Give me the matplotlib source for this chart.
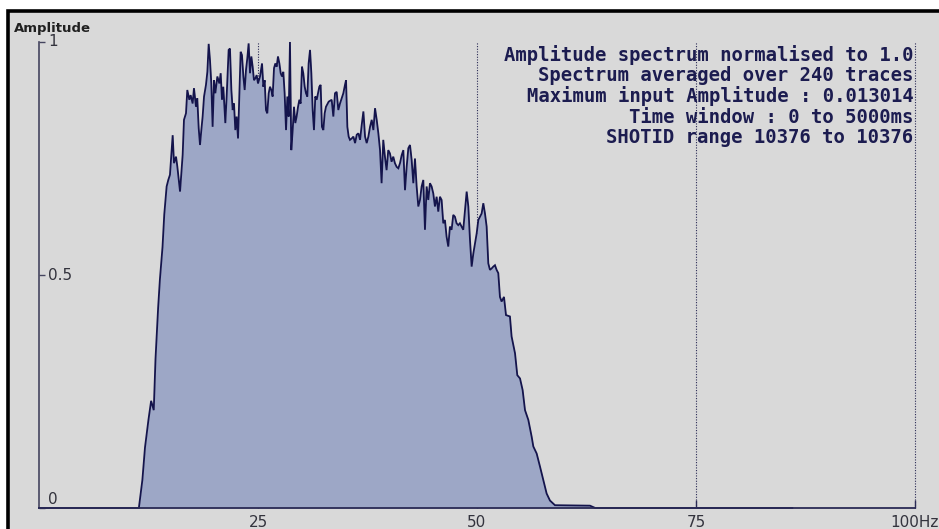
import matplotlib
matplotlib.use("Agg")
import matplotlib.pyplot as plt
from matplotlib.patches import Rectangle

# Averaged amplitude spectrum (frequency in Hz, amplitude normalised to 1.0)
freq_hz = [
    0.0, 11.4, 11.8, 12.1, 12.5, 12.8, 13.1, 13.3, 13.6, 13.8, 14.1, 14.3,
    14.57, 14.76, 14.95, 15.26, 15.41, 15.64, 15.79, 16.10, 16.40, 16.55, 16.78,
    16.93, 17.16, 17.31, 17.54, 17.69, 17.92, 18.07, 18.23, 18.38, 18.53, 18.68,
    18.84, 19.06, 19.22, 19.37, 19.52, 19.67, 19.82, 19.98, 20.13, 20.36, 20.59,
    20.74, 20.89, 21.04, 21.27, 21.42, 21.65, 21.80, 21.96, 22.11, 22.26, 22.41,
    22.56, 22.72, 22.87, 23.02, 23.17, 23.33, 23.48, 23.63, 23.78, 23.93, 24.09,
    24.24, 24.39, 24.54, 24.70, 24.85, 25.00, 25.23, 25.46, 25.61, 25.76, 25.91,
    26.06, 26.22, 26.37, 26.52, 26.67, 26.83, 26.98, 27.13, 27.28, 27.44, 27.59,
    27.74, 27.89, 28.04, 28.20, 28.35, 28.50, 28.65, 28.80, 28.96, 29.11, 29.26,
    29.41, 29.57, 29.72, 29.87, 30.02, 30.17, 30.33, 30.48, 30.63, 30.78, 30.94,
    31.09, 31.24, 31.39, 31.54, 31.70, 31.85, 32.00, 32.15, 32.30, 32.46, 32.61,
    32.76, 33.07, 33.41, 33.60, 33.79, 33.98, 34.17, 34.36, 34.55, 34.74, 34.93,
    35.05, 35.20, 35.35, 35.50, 35.70, 35.89, 36.08, 36.27, 36.46, 36.65, 36.84,
    37.03, 37.22, 37.41, 37.60, 37.79, 37.98, 38.17, 38.36, 38.55, 38.74, 38.93,
    39.11, 39.30, 39.49, 39.68, 39.87, 40.06, 40.25, 40.44, 40.63, 40.83, 41.02,
    41.21, 41.40, 41.59, 41.78, 41.97, 42.16, 42.35, 42.54, 42.73, 42.92, 43.11,
    43.30, 43.49, 43.68, 43.87, 44.06, 44.25, 44.44, 44.63, 44.82, 45.01, 45.20,
    45.39, 45.58, 45.77, 45.96, 46.15, 46.34, 46.53, 46.72, 46.91, 47.10, 47.29,
    47.48, 47.67, 47.86, 48.05, 48.24, 48.43, 48.63, 48.82, 49.01, 49.20, 49.39,
    49.58, 49.77, 49.96, 50.15, 50.34, 50.53, 50.72, 50.91, 51.10, 51.29, 51.48,
    51.67, 51.86, 52.05, 52.24, 52.43, 52.62, 52.81, 53.08, 53.31, 53.76, 53.95,
    54.15, 54.34, 54.60, 54.91, 55.21, 55.48, 55.86, 56.24, 56.43, 56.81, 57.19,
    57.57, 57.95, 58.33, 58.90, 62.9, 63.5, 86.0,
]
amplitude = [
    0.0, 0.0, 0.06, 0.13, 0.19, 0.23, 0.21, 0.32, 0.43, 0.49, 0.56, 0.63,
    0.690, 0.704, 0.715, 0.800, 0.740, 0.754, 0.733, 0.679, 0.758, 0.833, 0.847,
    0.897, 0.876, 0.886, 0.868, 0.901, 0.861, 0.879, 0.815, 0.779, 0.811, 0.840,
    0.883, 0.908, 0.936, 0.996, 0.961, 0.911, 0.818, 0.918, 0.890, 0.926, 0.911,
    0.933, 0.876, 0.904, 0.826, 0.883, 0.983, 0.986, 0.897, 0.854, 0.868, 0.811,
    0.840, 0.793, 0.883, 0.979, 0.972, 0.926, 0.897, 0.940, 0.965, 0.997, 0.933,
    0.969, 0.947, 0.918, 0.922, 0.929, 0.911, 0.926, 0.954, 0.904, 0.918, 0.854,
    0.847, 0.890, 0.904, 0.897, 0.883, 0.944, 0.954, 0.947, 0.969, 0.954, 0.933,
    0.926, 0.936, 0.890, 0.811, 0.883, 0.840, 1.000, 0.768, 0.811, 0.861, 0.826,
    0.840, 0.861, 0.876, 0.868, 0.947, 0.933, 0.904, 0.890, 0.883, 0.954, 0.983,
    0.933, 0.854, 0.811, 0.883, 0.876, 0.890, 0.904, 0.908, 0.818, 0.811, 0.847,
    0.861, 0.872, 0.876, 0.840, 0.890, 0.893, 0.854, 0.868, 0.879, 0.890, 0.908,
    0.918, 0.818, 0.797, 0.790, 0.793, 0.797, 0.783, 0.801, 0.804, 0.790, 0.822,
    0.851, 0.797, 0.783, 0.797, 0.818, 0.833, 0.811, 0.858, 0.833, 0.804, 0.768,
    0.697, 0.790, 0.754, 0.725, 0.768, 0.761, 0.743, 0.754, 0.740, 0.732, 0.729,
    0.740, 0.757, 0.768, 0.682, 0.732, 0.772, 0.779, 0.747, 0.697, 0.750, 0.690,
    0.647, 0.661, 0.690, 0.704, 0.597, 0.690, 0.661, 0.697, 0.690, 0.675, 0.647,
    0.668, 0.636, 0.668, 0.661, 0.611, 0.618, 0.582, 0.561, 0.604, 0.597, 0.629,
    0.625, 0.611, 0.607, 0.611, 0.604, 0.597, 0.639, 0.679, 0.647, 0.575, 0.518,
    0.546, 0.568, 0.589, 0.618, 0.625, 0.632, 0.654, 0.632, 0.604, 0.525, 0.511,
    0.514, 0.518, 0.521, 0.511, 0.504, 0.453, 0.443, 0.453, 0.414, 0.411, 0.368,
    0.350, 0.332, 0.285, 0.278, 0.253, 0.210, 0.189, 0.153, 0.132, 0.117, 0.089,
    0.060, 0.031, 0.016, 0.006, 0.005, 0.0, 0.0,
]

x_ticks = [25, 50, 75, 100]
x_tick_labels = ["25", "50", "75", "100Hz"]
y_ticks = [0, 0.5, 1]
y_tick_labels = ["0", "0.5", "1"]

info_lines = [
    "Amplitude spectrum normalised to 1.0",
    "Spectrum averaged over 240 traces",
    "Maximum input Amplitude : 0.013014",
    "Time window : 0 to 5000ms",
    "SHOTID range 10376 to 10376",
]

BG = "#d9d9d9"
FILL = "#9da7c6"
LINE = "#14144c"
AXIS = "#2a2a55"
TEXT = "#1c1c50"
LABEL = "#33333d"

W, H = 939, 529
fig = plt.figure(figsize=(W / 100, H / 100), dpi=100, facecolor="white")

# framed grey panel behind the plot
fig.patches.append(Rectangle((8 / W, -0.05), 1.1, 1 - 11 / H + 0.05,
                             transform=fig.transFigure, facecolor=BG,
                             edgecolor="black", linewidth=2.6, zorder=-5))

ax = fig.add_axes([39 / W, 1 - 508 / H, 876 / W, 466 / H])
ax.set_zorder(1)
ax.set_facecolor("none")
ax.set_xlim(0, 100)
ax.set_ylim(0, 1)

for xv in x_ticks:
    ax.plot([xv, xv], [0, 1], color=AXIS, lw=0.8, dashes=(1, 1.4), zorder=1,
            clip_on=False)

ax.fill_between(freq_hz, amplitude, 0, color=FILL, lw=0, zorder=2, clip_on=False)
ax.plot(freq_hz, amplitude, color=LINE, lw=1.3, zorder=3, clip_on=False,
        solid_joinstyle="miter")

for s in ("top", "right"):
    ax.spines[s].set_visible(False)
ax.spines["left"].set_color("#45455f")
ax.spines["left"].set_linewidth(1.2)
ax.spines["bottom"].set_color(AXIS)
ax.spines["bottom"].set_linewidth(1.3)
ax.spines["bottom"].set_zorder(4)

ax.set_xticks(x_ticks)
ax.set_xticklabels(x_tick_labels)
ax.tick_params(axis="x", direction="in", length=5.8, width=1.0, color=AXIS,
               pad=5, labelsize=11, labelcolor=LABEL)

ax.set_yticks(y_ticks)
ax.set_yticklabels([])
ax.tick_params(axis="y", direction="in", length=4.3, width=1.0, color="#45455f")
for yv, lab in zip(y_ticks, y_tick_labels):
    ax.text(1.05, yv + (0.019 if yv == 0 else 0), lab, ha="left", va="center",
            fontsize=11, color=LABEL)

fig.text(14 / W, 1 - 31.7 / H, "Amplitude", fontsize=9.5, fontweight="bold",
         color="#202020", ha="left", va="baseline")

for i, line in enumerate(info_lines):
    fig.text(913.5 / W, 1 - (60.7 + 20.65 * i) / H, line, ha="right",
             va="baseline", family="DejaVu Sans Mono", fontweight="bold",
             fontsize=13.6, color=TEXT, zorder=5)

fig.savefig("out.png", dpi=100, facecolor="white")
